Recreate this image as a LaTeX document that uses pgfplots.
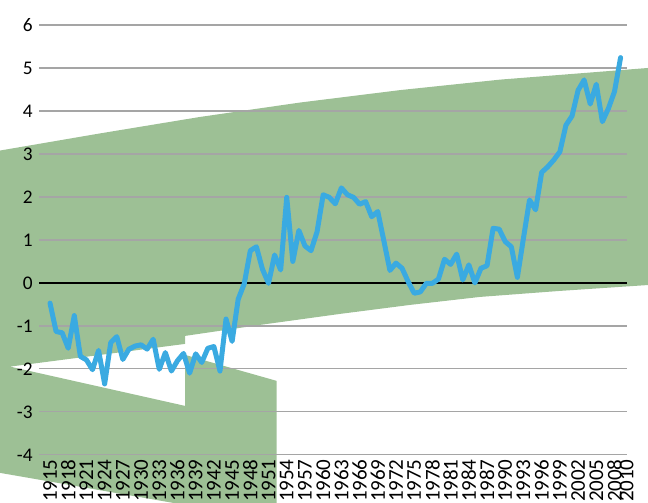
\documentclass[border=0pt]{standalone}
\usepackage{pgfplots}
\pgfplotsset{compat=1.18}
\usepackage{fontspec}
\setmainfont{Carlito}
\definecolor{bandgreen}{RGB}{157,192,149}
\definecolor{lineblue}{RGB}{58,170,225}
\definecolor{gridgray}{RGB}{165,165,165}

\pgfplotstableread{
year value
1915 -0.47
1916 -1.13
1917 -1.16
1918 -1.52
1919 -0.76
1920 -1.71
1921 -1.79
1922 -2.02
1923 -1.57
1924 -2.35
1925 -1.39
1926 -1.25
1927 -1.78
1928 -1.54
1929 -1.47
1930 -1.44
1931 -1.54
1932 -1.31
1933 -2.01
1934 -1.62
1935 -2.05
1936 -1.81
1937 -1.64
1938 -2.10
1939 -1.65
1940 -1.85
1941 -1.52
1942 -1.48
1943 -2.05
1944 -0.84
1945 -1.36
1946 -0.38
1947 -0.02
1948 0.75
1949 0.84
1950 0.32
1951 -0.01
1952 0.65
1953 0.30
1954 1.99
1955 0.50
1956 1.22
1957 0.86
1958 0.75
1959 1.19
1960 2.05
1961 1.99
1962 1.84
1963 2.21
1964 2.05
1965 1.99
1966 1.83
1967 1.89
1968 1.54
1969 1.66
1970 0.98
1971 0.29
1972 0.46
1973 0.34
1974 0.03
1975 -0.24
1976 -0.21
1977 -0.01
1978 -0.01
1979 0.09
1980 0.55
1981 0.43
1982 0.67
1983 0.07
1984 0.42
1985 0.00
1986 0.34
1987 0.40
1988 1.27
1989 1.25
1990 0.96
1991 0.84
1992 0.13
1993 1.04
1994 1.93
1995 1.70
1996 2.57
1997 2.70
1998 2.86
1999 3.05
2000 3.67
2001 3.88
2002 4.48
2003 4.72
2004 4.16
2005 4.62
2006 3.75
2007 4.06
2008 4.45
2009 5.24
}\mydata

\begin{document}
\begin{tikzpicture}
\begin{axis}[
  set layers,
  scale only axis,
  width=587.6pt, height=430pt,
  xmin=1913.2, xmax=2010, ymin=-4, ymax=6,
  clip=false,
  axis line style={draw=none},
  major tick length=0pt,
  ytick={-4,-3,-2,-1,1,2,3,4,5,6},
  yticklabels={-4,-3,-2,-1,1,2,3,4,5,6},
  extra y ticks={0},
  extra y tick labels={0},
  extra y tick style={grid style={black, line width=1.2pt}},
  ymajorgrids,
  grid style={gridgray, line width=1.2pt},
  xtick={1915,1918,1921,1924,1927,1930,1933,1936,1939,1942,1945,1948,1951,1954,1957,1960,1963,1966,1969,1972,1975,1978,1981,1984,1987,1990,1993,1996,1999,2002,2005,2008,2010},
  xticklabels={1915,1918,1921,1924,1927,1930,1933,1936,1939,1942,1945,1948,1951,1954,1957,1960,1963,1966,1969,1972,1975,1978,1981,1984,1987,1990,1993,1996,1999,2002,2005,2008,2010},
  xticklabel style={rotate=90, anchor=east, font=\fontsize{21}{21}\selectfont, xshift=-1pt},
  yticklabel style={font=\fontsize{19.3}{20}\selectfont, xshift=-3pt},
]
\addplot[fill=bandgreen, draw=none, on layer=axis background] coordinates {
 (1906.0,3.06) (1923.24,3.477) (1939.71,3.860) (1956.19,4.195) (1972.66,4.484) (1989.14,4.728) (2014.5,5.01)
 (2014.5,-0.04) (1999.02,-0.186) (1985.84,-0.326) (1974.31,-0.512) (1962.78,-0.721) (1949.60,-0.977) (1937.24,-1.233)
 (1937.24,-1.419) (1908.41,-1.947) (1937.24,-2.860) (1937.24,-1.674) (1952.35,-2.279) (1952.35,-5.3)
 (1942.8,-5.3) (1906.0,-4.40)
} -- cycle;
\addplot[lineblue, line width=5pt, line join=round, line cap=round] table[x=year, y=value] {\mydata};
\coordinate (bbl) at (axis cs:1906.76,-5.116);
\coordinate (btr) at (axis cs:2013.52,6.58);
\end{axis}
\pgfresetboundingbox
\path[use as bounding box] (bbl) rectangle (btr);
\end{tikzpicture}
\end{document}
